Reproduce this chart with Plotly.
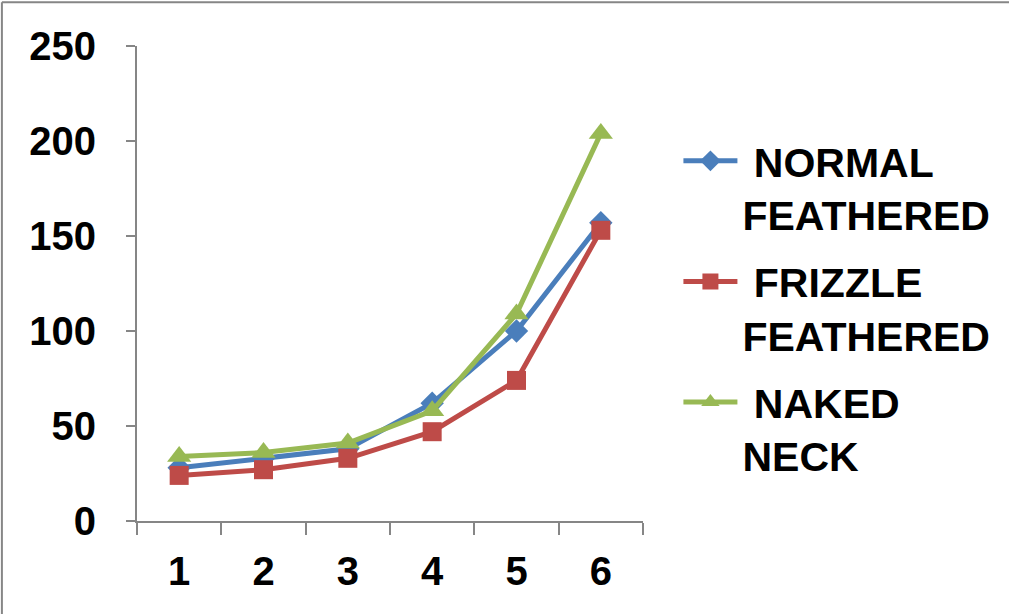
import plotly.graph_objects as go

# Categories and series values
categories = ["1", "2", "3", "4", "5", "6"]
normal_feathered = [28, 33, 38, 62, 100, 157]
frizzle_feathered = [24, 27, 33, 47, 74, 153]
naked_neck = [34, 36, 41, 58, 109, 204]

series_names = ["&nbsp;NORMAL<br>FEATHERED", "&nbsp;FRIZZLE<br>FEATHERED", "&nbsp;NAKED<br>NECK"]
y_ticks = [0, 50, 100, 150, 200, 250]

colors = ["#4A7EBB", "#BE4B48", "#98B954"]
symbols = ["diamond", "square", "triangle-up"]
sizes = [18, 19, 21]

fig = go.Figure()
for name, vals, c, s, sz in zip(series_names,
                                [normal_feathered, frizzle_feathered, naked_neck],
                                colors, symbols, sizes):
    fig.add_trace(go.Scatter(
        x=categories, y=vals, name=name, legendgroup=name,
        mode="lines+markers",
        line=dict(color=c, width=5),
        marker=dict(symbol=s, size=sz, color=c),
    ))

font_family = "Liberation Sans, Arial, sans-serif"
axis_color = "#868686"

fig.update_layout(
    width=1009, height=614,
    margin=dict(l=137, r=366, t=46, b=93),
    paper_bgcolor="white", plot_bgcolor="white",
    font=dict(family=font_family, size=40, color="black", weight="bold"),
    showlegend=True,
    legend=dict(
        x=1.07, y=0.828, xanchor="left", yanchor="top",
        font=dict(family=font_family, size=41, color="black", weight="bold"),
        valign="top", tracegroupgap=11, itemwidth=54,
        bgcolor="rgba(0,0,0,0)",
    ),
    xaxis=dict(
        type="category", range=[-0.5, 5.5],
        tickson="boundaries", ticks="outside", ticklen=12, tickwidth=2,
        tickcolor=axis_color, showline=True, linecolor=axis_color, linewidth=2,
        showgrid=False, zeroline=False, ticklabelstandoff=14,
        tickfont=dict(family=font_family, size=40, color="black", weight="bold"),
    ),
    yaxis=dict(
        range=[0, 250], tickvals=y_ticks, ticks="outside", ticklen=9, tickwidth=2,
        tickcolor=axis_color, showline=True, linecolor=axis_color, linewidth=2,
        showgrid=False, zeroline=False, ticklabelstandoff=22,
        tickfont=dict(family=font_family, size=40, color="black", weight="bold"),
    ),
    shapes=[
        dict(type="line", xref="paper", yref="paper", x0=-0.267, x1=1.75, y0=1.092, y1=1.092,
             line=dict(color=axis_color, width=2)),
        dict(type="line", xref="paper", yref="paper", x0=-0.267, x1=-0.267, y0=1.092, y1=-0.2,
             line=dict(color=axis_color, width=2)),
    ],
)

fig.write_html("out.html")
